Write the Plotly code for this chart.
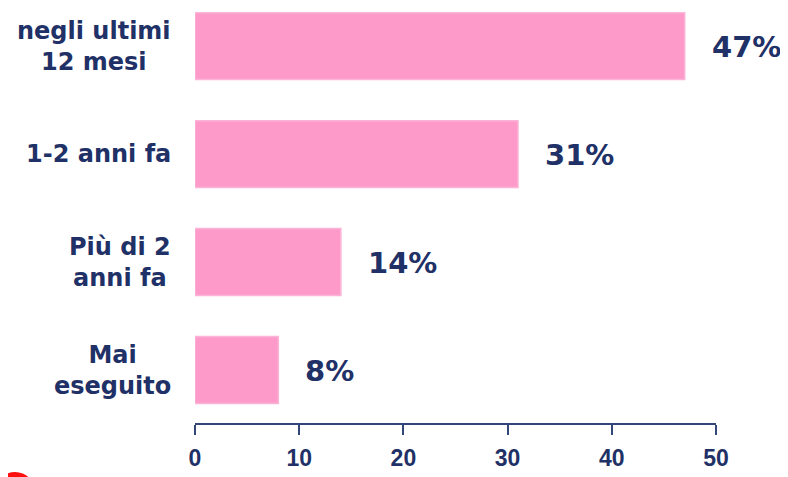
import plotly.graph_objects as go

categorie = ["negli ultimi<br>12 mesi", "1-2 anni fa", "Più di 2<br>anni fa", "Mai<br>eseguito"]
valori = [47, 31, 14, 8]
etichette = ["47%", "31%", "14%", "8%"]
tick_valori = [0, 10, 20, 30, 40, 50]

blu = "#1f3166"
rosa = "#fd9ac9"

# top bar first -> numeric positions 3..0
pos = [3, 2, 1, 0]

fig = go.Figure()
fig.add_trace(go.Bar(
    x=valori, y=pos, orientation="h",
    marker=dict(color=rosa, line=dict(color="#fbb4d8", width=1.5)),
    width=0.62, hoverinfo="skip",
))

# labels on the left (block right-aligned, lines centred)
for p, c in zip(pos, categorie):
    fig.add_annotation(x=0, y=p, xref="x", yref="y", text=c, showarrow=False,
                       xanchor="right", yanchor="middle", align="center", xshift=-22,
                       font=dict(family="DejaVu Sans", size=24, color=blu, weight="bold"))

# value labels
for p, v, t in zip(pos, valori, etichette):
    fig.add_annotation(x=v, y=p, xref="x", yref="y", text=t, showarrow=False,
                       xanchor="left", yanchor="middle", xshift=25, yshift=-1,
                       font=dict(family="DejaVu Sans", size=29, color=blu, weight="bold"))

# red mark in the bottom-left corner
fig.add_shape(type="circle", xref="paper", yref="paper",
              x0=-0.384, x1=-0.307, y0=-0.214, y1=-0.118,
              fillcolor="#ff1010", line=dict(width=0), layer="above")

fig.update_layout(
    width=780, height=469,
    margin=dict(l=187, r=72, t=0, b=54),
    paper_bgcolor="white", plot_bgcolor="white",
    showlegend=False,
    xaxis=dict(range=[0, 50], tickvals=tick_valori, showgrid=False, zeroline=False,
               showline=True, linecolor="#34457a", linewidth=2,
               ticks="outside", ticklen=10, tickwidth=2, tickcolor="#34457a",
               ticklabelstandoff=3,
               tickfont=dict(family="Liberation Sans", size=23, color=blu, weight="bold")),
    yaxis=dict(range=[-0.49, 3.353], showticklabels=False, showgrid=False,
               zeroline=False, showline=False),
)

fig.write_html("out.html")
